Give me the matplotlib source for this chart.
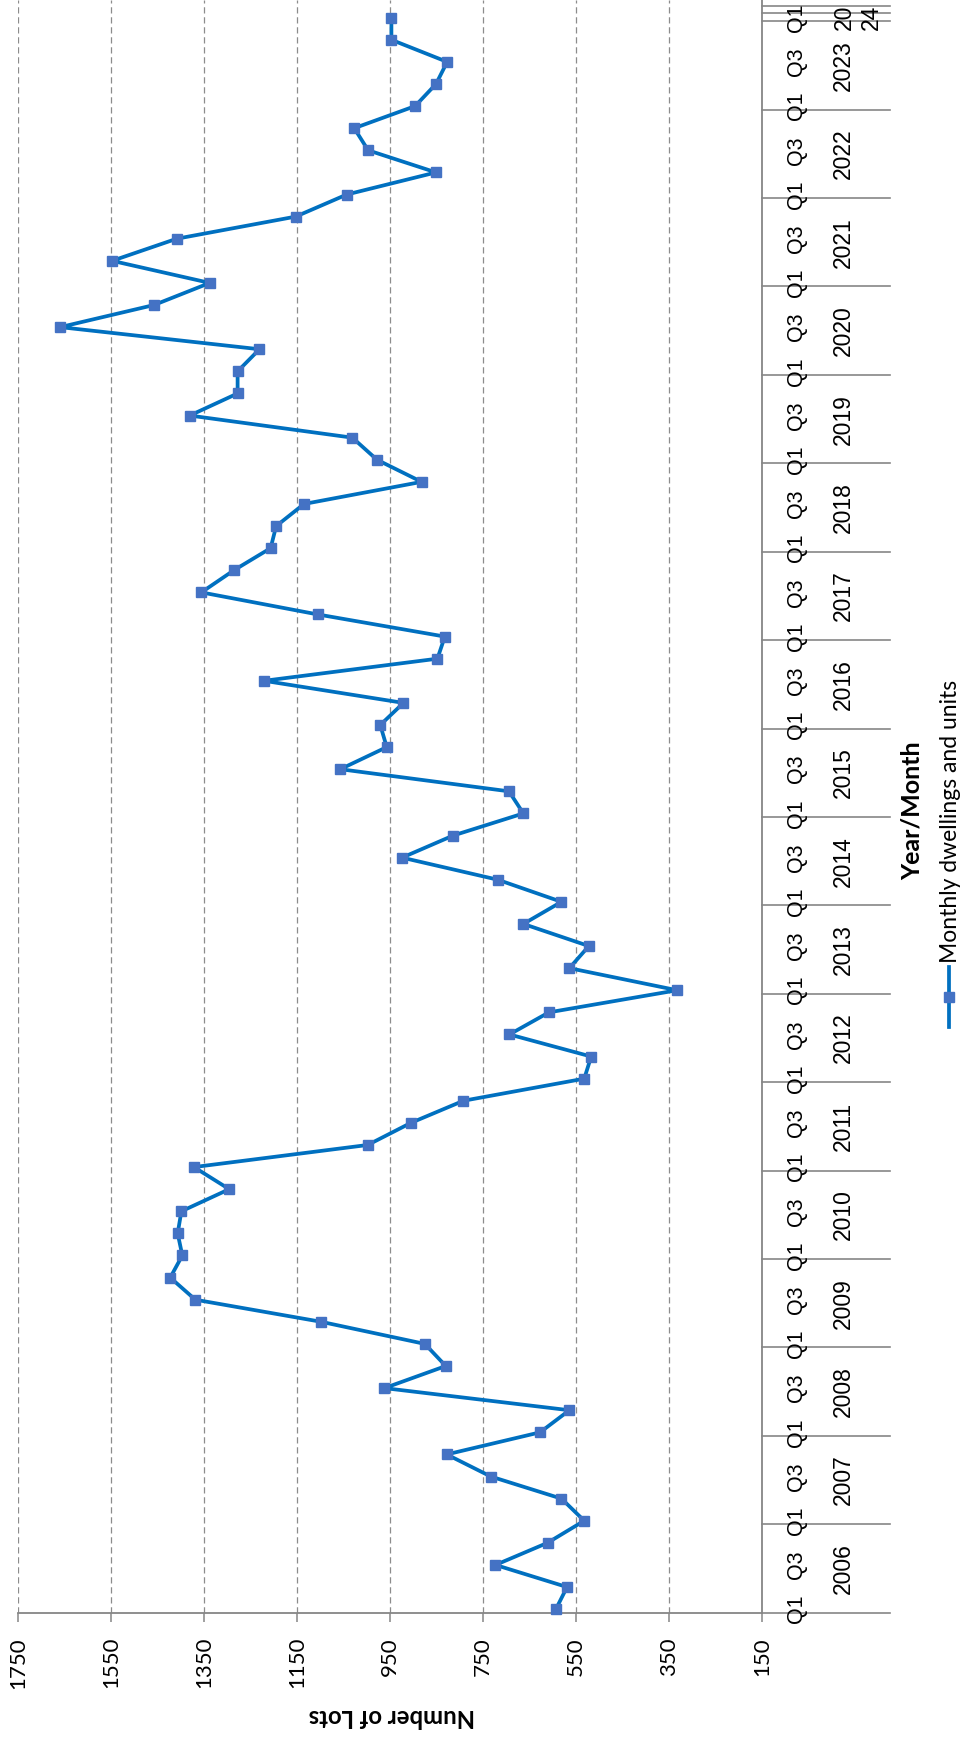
import numpy as np
import matplotlib
matplotlib.use('Agg')
import matplotlib.pyplot as plt
from matplotlib.lines import Line2D
import matplotlib.transforms as mtransforms

# ---------------- data ----------------
years = list(range(2006, 2025))
quarter_labels = [f"{y} Q{q}" for y in range(2006, 2024) for q in range(1, 5)] + ["2024 Q1"]
lots = [593, 569, 723, 611, 532, 581, 733, 828, 627, 564,
        962, 830, 875, 1098, 1369, 1423, 1397, 1407, 1399, 1296,
        1372, 998, 905, 792, 532, 517, 693, 608, 332, 564,
        522, 663, 581, 718, 924, 814, 663, 694, 1057, 957,
        971, 921, 1221, 848, 832, 1105, 1356, 1286, 1207, 1195,
        1135, 882, 978, 1031, 1381, 1278, 1278, 1231, 1660, 1458,
        1338, 1548, 1409, 1153, 1043, 851, 997, 1027, 896, 851,
        827, 947, 947]
value_ticks = [1750, 1550, 1350, 1150, 950, 750, 550, 350, 150]
series_name = "Monthly dwellings and units"

# ---------------- style ----------------
LINE_C = '#0070C0'
MARK_C = '#4472C4'
AXIS_C = '#868686'
GRID_C = '#8C8C8C'

fig = plt.figure(figsize=(9.6, 17.38), dpi=100)
ax = fig.add_axes([0.01906, 0.0721, 0.7744, 0.9279])
ax.set_xlim(1750, 150)
ax.set_ylim(-0.16, 72.8)

idx = np.arange(len(lots))
ax.plot(lots, idx, color=LINE_C, lw=2.7, marker='s', ms=7.8,
        mfc=MARK_C, mec=MARK_C, zorder=3, clip_on=False)

ax.set_xticks(value_ticks)
ax.set_xticklabels([str(v) for v in value_ticks])
ax.xaxis.grid(True, linestyle=(0, (5, 3)), color=GRID_C, lw=0.9)
ax.set_axisbelow(True)
ax.set_yticks([])
ax.tick_params(axis='x', direction='out', length=6.5, width=1.1, color=AXIS_C,
               pad=11, labelsize=16, labelrotation=90)
for lbl in ax.get_xticklabels():
    lbl.set_fontfamily('Lato')

for s in ['left', 'top']:
    ax.spines[s].set_visible(False)
for s in ['right', 'bottom']:
    ax.spines[s].set_color(AXIS_C)
    ax.spines[s].set_linewidth(1.3)

trans = mtransforms.blended_transform_factory(ax.transAxes, ax.transData)

# quarter labels (every second quarter)
for i, q in enumerate(quarter_labels):
    if i % 2 == 0:
        ax.text(1.0462, i, q.split()[1], rotation=90, ha='center', va='center',
                transform=trans, fontfamily='Liberation Sans', fontsize=15.5,
                clip_on=False)

# year labels and dividers
y0 = ax.get_ylim()[0]
for k, yr in enumerate(years[:-1]):
    ax.text(1.1093, 4 * k + 2 + y0, str(yr), rotation=90, ha='center', va='center',
            transform=trans, fontfamily='Liberation Sans', fontsize=16.5, clip_on=False)
ax.text(1.1295, 72.0, "20\n24", rotation=90, ha='center', va='center',
        transform=trans, fontfamily='Liberation Sans', fontsize=16.5,
        linespacing=1.25, clip_on=False)
div_pos = [4 * k + y0 for k in range(len(years))] + [72.2, 72.55]
for yv in div_pos:
    ax.plot([1.0, 1.1726], [yv, yv], transform=trans, color=AXIS_C, lw=1.2,
            clip_on=False)

# axis titles
fig.text(0.4083, 0.0121, 'Number of Lots', rotation=180, ha='center', va='center',
         fontweight='bold', fontfamily='Lato', fontsize=17.2)
fig.text(0.950, 0.5334, 'Year/Month', rotation=90, ha='center', va='center',
         fontweight='bold', fontfamily='Lato', fontsize=18)

# legend (rotated)
lx = 0.9885
fig.add_artist(Line2D([lx, lx], [0.4091, 0.4436], transform=fig.transFigure,
                      color=LINE_C, lw=2.7))
fig.add_artist(Line2D([lx], [0.4264], transform=fig.transFigure, marker='s',
                      ms=7.8, mfc=MARK_C, mec=MARK_C, color=LINE_C))
fig.text(0.9896, 0.4459, series_name, rotation=90, ha='center', va='bottom',
         fontfamily='Lato', fontsize=16.5)

fig.savefig('out.png', dpi=100)
